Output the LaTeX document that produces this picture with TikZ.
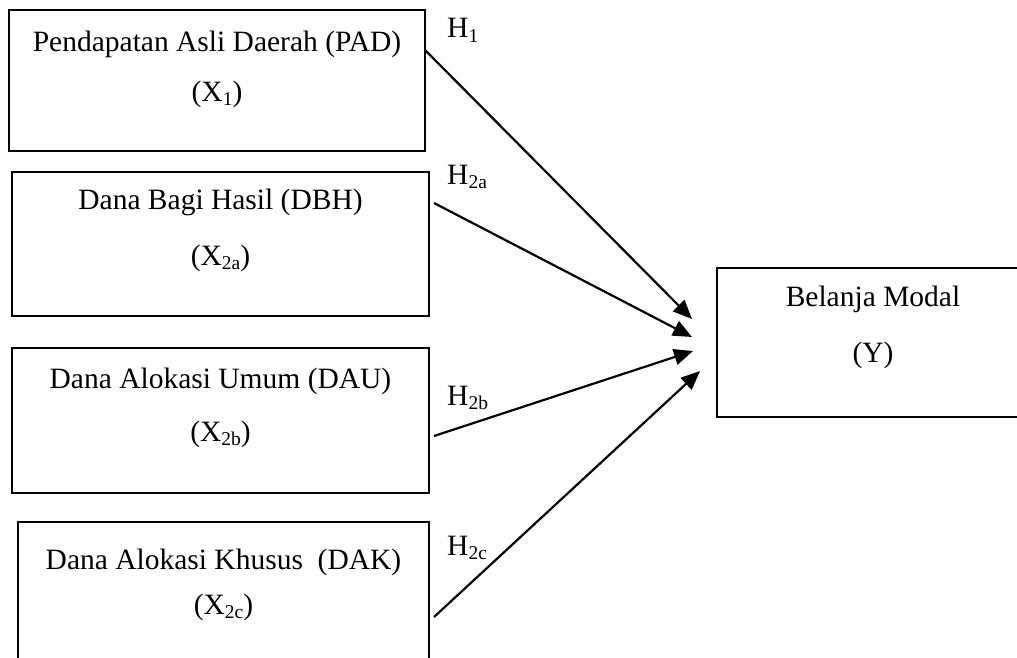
\documentclass[tikz,border=0pt]{standalone}
\usepackage{fontspec}
\setmainfont{Liberation Serif}
\usetikzlibrary{arrows.meta}
\newcommand\lowsub[1]{\raisebox{-0.14em}{\fontsize{19.5}{20}\selectfont #1}}
\tikzset{
  box/.style={draw=black, line width=1.5pt, rectangle, inner sep=0pt},
  txt/.style={inner sep=0pt, font=\fontsize{29.5}{34}\selectfont, anchor=base},
  hlab/.style={inner sep=0pt, font=\fontsize{29.5}{34}\selectfont, anchor=base west},
  arr/.style={line width=2.2pt, -{Triangle[length=19pt,width=16pt]}}
}
\begin{document}
\begin{tikzpicture}[x=1pt,y=-1pt]
\useasboundingbox (0,0) rectangle (1017,658);
% boxes
\node[box, minimum width=416pt, minimum height=141pt] (b1) at (217,80.5) {};
\node[box, minimum width=417pt, minimum height=144pt] (b2) at (220.5,244) {};
\node[box, minimum width=417pt, minimum height=145pt] (b3) at (220.5,420.5) {};
\node[box, minimum width=411pt, minimum height=146pt] (b4) at (223.5,595) {};
\node[box, minimum width=312pt, minimum height=149pt] (by) at (873,342.5) {};
% texts
\path (b1.north) ++(0,42) node[txt] (t1a) {Pendapatan Asli Daerah (PAD)};
\path (b1.north) ++(0,92) node[txt] (t1b) {(X\lowsub{1})};
\path (b2.north) ++(0,38) node[txt] (t2a) {Dana Bagi Hasil (DBH)};
\path (b2.north) ++(0,94) node[txt] (t2b) {(X\lowsub{2a})};
\path (b3.north) ++(0,41) node[txt] (t3a) {Dana Alokasi Umum (DAU)};
\path (b3.north) ++(0,94) node[txt] (t3b) {(X\lowsub{2b})};
\path (b4.north) ++(0,48) node[txt] (t4a) {Dana Alokasi Khusus\ \ (DAK)};
\path (b4.north) ++(0,93) node[txt] (t4b) {(X\lowsub{2c})};
\path (by.north) ++(0,39) node[txt] (tya) {Belanja Modal};
\path (by.north) ++(0,95) node[txt] (tyb) {(Y)};
% hypothesis labels
\node[hlab] (h1) at (447,38) {H\lowsub{1}};
\node[hlab] (h2a) at (447,184) {H\lowsub{2a}};
\node[hlab] (h2b) at (447,405) {H\lowsub{2b}};
\node[hlab] (h2c) at (447,555) {H\lowsub{2c}};
% connector ends
\coordinate (s1) at (425,50);
\coordinate (s2) at (434,203);
\coordinate (s3) at (434,436);
\coordinate (s4) at (434,617);
\coordinate (e1) at (692,319);
\coordinate (e2) at (692,337);
\coordinate (e3) at (693,351);
\coordinate (e4) at (700,371);
\draw[arr] (s1) -- (e1);
\draw[arr] (s2) -- (e2);
\draw[arr] (s3) -- (e3);
\draw[arr] (s4) -- (e4);
\end{tikzpicture}
\end{document}
